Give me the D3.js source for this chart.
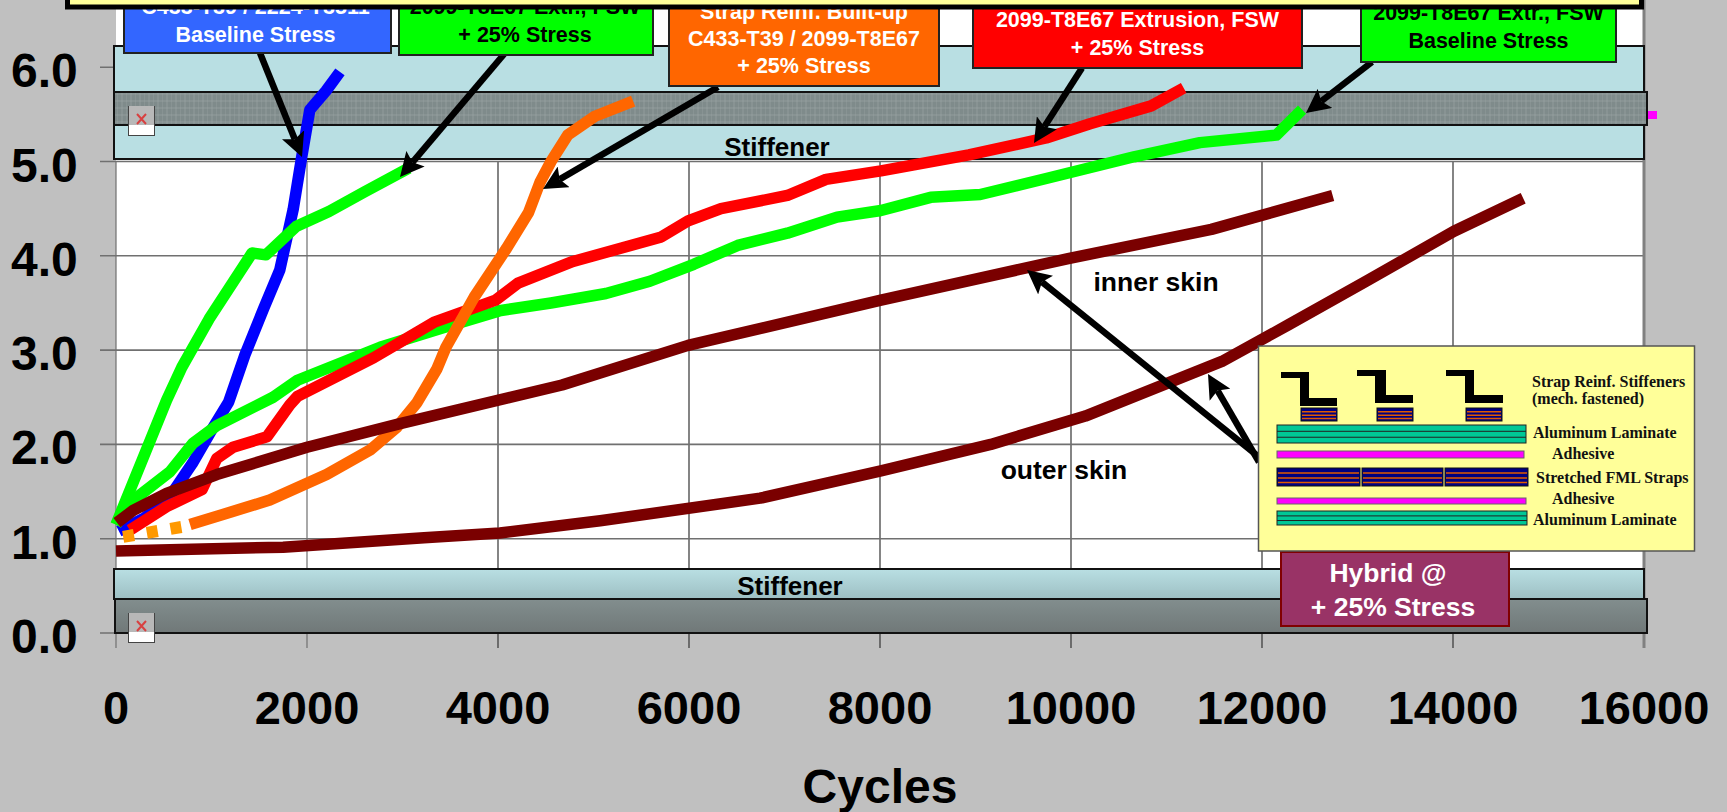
<!DOCTYPE html>
<html><head><meta charset="utf-8">
<script src="https://cdn.jsdelivr.net/npm/d3@7"></script>
<style>html,body{margin:0;padding:0;background:#c0c0c0;overflow:hidden}svg{display:block}text{font-family:"Liberation Sans",Arial,sans-serif}</style>
</head><body><svg id="c" width="1727" height="812"></svg>
<script>
const xTicks=[0,2000,4000,6000,8000,10000,12000,14000,16000];
const yTicks=[0,1,2,3,4,5,6];
const blueBase=[[30,1.08],[300,1.22],[600,1.5],[800,1.8],[1000,2.15],[1180,2.45],[1350,2.95],[1550,3.45],[1715,3.85],[1855,4.49],[1945,5.05],[2030,5.55],[2200,5.75],[2345,5.95]];
const greenShort=[[0,1.15],[530,2.47],[690,2.82],[975,3.33],[1425,4.03],[1570,4.01],[1885,4.31],[2230,4.47],[2605,4.68],[3065,4.93]];
const greenLong=[[0,1.15],[145,1.38],[565,1.71],[805,2.01],[1055,2.2],[1645,2.5],[1900,2.68],[2765,3.03],[3400,3.23],[4030,3.42],[4555,3.5],[5130,3.6],[5590,3.73],[6050,3.91],[6510,4.11],[7030,4.24],[7550,4.41],[8010,4.48],[8530,4.62],[9050,4.65],[9740,4.82],[10660,5.05],[11350,5.2],[12150,5.28],[12420,5.55]];
const redLong=[[145,1.09],[530,1.34],[900,1.52],[1055,1.85],[1225,1.97],[1580,2.08],[1820,2.42],[1900,2.51],[2700,2.92],[3340,3.3],[3975,3.53],[4210,3.71],[4785,3.94],[5710,4.2],[5990,4.37],[6335,4.5],[7030,4.64],[7435,4.81],[8010,4.9],[8930,5.07],[9740,5.25],[10200,5.4],[10840,5.59],[11180,5.78]];
const orangeDotted=[[75,1.02],[775,1.14]];
const orangeSolid=[[775,1.15],[1195,1.28],[1610,1.41],[2205,1.68],[2660,1.94],[2940,2.18],[3150,2.44],[3360,2.8],[3455,3.03],[3750,3.56],[4090,4.08],[4320,4.46],[4440,4.78],[4555,5.0],[4730,5.28],[5015,5.48],[5415,5.64]];
const innerSkin=[[10,1.17],[180,1.3],[530,1.48],[1055,1.68],[2000,1.97],[2975,2.22],[4670,2.63],[5990,3.05],[8010,3.53],[9970,3.97],[11470,4.28],[12740,4.64]];
const outerSkin=[[0,0.87],[1750,0.91],[3225,1.01],[4020,1.06],[5070,1.19],[6745,1.43],[8010,1.72],[9160,2.0],[10150,2.3],[11580,2.88],[12280,3.27],[13090,3.73],[14010,4.26],[14735,4.61]];

const x=d3.scaleLinear().domain([0,16000]).range([116,1644]);
const y=d3.scaleLinear().domain([0,6]).range([633,67.2]);
const svg=d3.select("#c");
const defs=svg.append("defs");
const lg=defs.append("linearGradient").attr("id","lb").attr("x2",0).attr("y2",1);
lg.append("stop").attr("offset",0).attr("stop-color","#b9dfe3");
lg.append("stop").attr("offset",1).attr("stop-color","#9dbfc3");
const gg=defs.append("linearGradient").attr("id","gb").attr("x2",0).attr("y2",1);
gg.append("stop").attr("offset",0).attr("stop-color","#828e8e");
gg.append("stop").attr("offset",1).attr("stop-color","#707878");
const pt=defs.append("pattern").attr("id","tx").attr("width",9).attr("height",7).attr("patternUnits","userSpaceOnUse");
pt.append("rect").attr("width",9).attr("height",7).attr("fill","#7f8b8b");
pt.append("path").attr("d","M0 0V7M5 0V7M0 3H9").attr("stroke","#96a2a2").attr("stroke-width",.7);
const ar=defs.append("marker").attr("id","ah").attr("viewBox","0 0 10 10").attr("refX",2).attr("refY",5).attr("markerUnits","userSpaceOnUse").attr("markerWidth",24).attr("markerHeight",24).attr("orient","auto");
ar.append("path").attr("d","M0 0L10 5L0 10L2 5Z").attr("fill","#000");

// plot background
svg.append("rect").attr("x",x(0)).attr("y",0).attr("width",x(16000)-x(0)).attr("height",y(0)).attr("fill","#fff");
const grid=svg.append("g");
grid.selectAll(".v").data(xTicks).join("line").attr("x1",d=>x(d)).attr("x2",d=>x(d)).attr("y1",y(5)).attr("y2",648).attr("stroke",d=>d==0||d==2000?"#6f6f6f":"#333").attr("stroke-width",d=>d==16000?0:1.2);
grid.selectAll(".h").data(yTicks).join("line").attr("x1",100).attr("x2",x(16000)).attr("y1",d=>y(d)).attr("y2",d=>y(d)).attr("stroke","#707070").attr("stroke-width",1.6);
grid.append("line").attr("x1",x(16000)).attr("x2",x(16000)).attr("y1",0).attr("y2",648).attr("stroke","#808080").attr("stroke-width",3);

// stiffener bands
function band(yTop,yBot,fill){
  svg.append("rect").attr("x",114).attr("y",yTop).attr("width",1530).attr("height",yBot-yTop).attr("fill",fill).attr("stroke","#111").attr("stroke-width",2);
}
band(46,159,"#b9dfe3");
svg.append("rect").attr("x",114).attr("y",92).attr("width",1533).attr("height",33).attr("fill","url(#tx)").attr("stroke","#111").attr("stroke-width",2);
band(569,599,"url(#lb)");
svg.append("rect").attr("x",115).attr("y",599).attr("width",1532).attr("height",34).attr("fill","url(#gb)").attr("stroke","#111").attr("stroke-width",2);
svg.append("rect").attr("x",1648).attr("y",111).attr("width",9).attr("height",8).attr("fill","#ff00ff");

function icon(px,py){
  const g=svg.append("g").attr("transform",`translate(${px},${py})`);
  g.append("rect").attr("x",.5).attr("y",.5).attr("width",26).attr("height",29).attr("fill","#fff").attr("stroke","#444");
  g.append("rect").attr("x",1).attr("y",0).attr("width",25).attr("height",19).attr("fill","#b8b8b8");
  g.append("path").attr("d","M9 8L18 18M18 8L9 18").attr("stroke","#d84040").attr("stroke-width",2);
}
icon(128,106); icon(128,613);

svg.append("text").attr("x",777).attr("y",156).attr("text-anchor","middle").attr("font-size",26).attr("font-weight","bold").text("Stiffener");
svg.append("text").attr("x",790).attr("y",595).attr("text-anchor","middle").attr("font-size",26).attr("font-weight","bold").text("Stiffener");

// series
const line=d3.line().x(d=>x(d[0])).y(d=>y(d[1]));
const series=[[blueBase,"#0000ff"],[greenShort,"#00ff00"],[greenLong,"#00ff00"],[redLong,"#ff0000"],[orangeSolid,"#ff6600"],[innerSkin,"#7a0000"],[outerSkin,"#7a0000"]];
svg.append("g").selectAll("path").data(series).join("path").attr("d",d=>line(d[0])).attr("fill","none").attr("stroke",d=>d[1]).attr("stroke-width",11.5).attr("stroke-linejoin","round");
svg.append("path").attr("d",line(orangeDotted)).attr("fill","none").attr("stroke","#ff9900").attr("stroke-width",12).attr("stroke-dasharray","11 13");

// axes labels
svg.append("g").selectAll("text").data(yTicks).join("text").attr("x",11).attr("y",d=>y(d)+20).attr("font-size",48).attr("font-weight","bold").text(d=>d.toFixed(1));
svg.append("g").selectAll("text").data(xTicks).join("text").attr("x",d=>x(d)).attr("y",724).attr("text-anchor","middle").attr("font-size",47).attr("font-weight","bold").text(d=>d);
svg.append("text").attr("x",880).attr("y",803).attr("text-anchor","middle").attr("font-size",48).attr("font-weight","bold").text("Cycles");
svg.append("text").attr("x",1156).attr("y",291).attr("text-anchor","middle").attr("font-size",26.5).attr("font-weight","bold").text("inner skin");
svg.append("text").attr("x",1064).attr("y",479).attr("text-anchor","middle").attr("font-size",26.5).attr("font-weight","bold").text("outer skin");

// arrows: line stops short of the tip, marker head reaches it
const arrows=[[260,53,302,157],[505,53,400,177],[718,87,543,189],[1082,68,1034,143],[1372,62,1306,113],[1259,457,1027,270],[1259,462,1208,374]];
const headLen=19.2;
svg.append("g").selectAll("line").data(arrows).join("line")
  .attr("x1",d=>d[0]).attr("y1",d=>d[1])
  .attr("x2",d=>d[2]-(d[2]-d[0])/Math.hypot(d[2]-d[0],d[3]-d[1])*headLen)
  .attr("y2",d=>d[3]-(d[3]-d[1])/Math.hypot(d[2]-d[0],d[3]-d[1])*headLen)
  .attr("stroke","#000").attr("stroke-width",6.5).attr("marker-end","url(#ah)");

// label boxes
const boxes=[
 {x:124,w:267,b:53,f:"#3366ff",c:"#fff",lines:["C433-T39 / 2224-T3511","Baseline Stress"],ys:[14,42],dx:-2},
 {x:399,w:254,b:55,f:"#00ff00",c:"#000",lines:["2099-T8E67 Extr., FSW","+ 25% Stress"],ys:[14,42],dx:-1},
 {x:669,w:270,b:86,f:"#ff6600",c:"#fff",lines:["Strap Reinf. Built-up","C433-T39 / 2099-T8E67","+ 25% Stress"],ys:[18.5,45.5,73],dx:0},
 {x:973,w:329,b:68,f:"#ff0000",c:"#fff",lines:["2099-T8E67 Extrusion, FSW","+ 25% Stress"],ys:[27,55],dx:0},
 {x:1361,w:255,b:62,f:"#00ff00",c:"#000",lines:["2099-T8E67 Extr., FSW","Baseline Stress"],ys:[20,48],dx:0}
];
boxes.forEach(b=>{
  svg.append("rect").attr("x",b.x).attr("y",-5).attr("width",b.w).attr("height",b.b+5).attr("fill",b.f).attr("stroke","#222").attr("stroke-width",2);
  b.lines.forEach((t,i)=>svg.append("text").attr("x",b.x+b.w/2+b.dx).attr("y",b.ys[i]).attr("text-anchor","middle").attr("font-size",21.5).attr("font-weight","bold").attr("fill",b.c).text(t));
});
svg.append("rect").attr("x",67.5).attr("y",-6).attr("width",1574).attr("height",13).attr("fill","#ffff99").attr("stroke","#000").attr("stroke-width",5);

// hybrid
svg.append("rect").attr("x",1281).attr("y",552).attr("width",228).attr("height",74).attr("fill","#993366").attr("stroke","#800000").attr("stroke-width",2);
svg.append("text").attr("x",1388).attr("y",582).attr("text-anchor","middle").attr("font-size",26.5).attr("font-weight","bold").attr("fill","#fff").text("Hybrid @");
svg.append("text").attr("x",1393).attr("y",616).attr("text-anchor","middle").attr("font-size",26.5).attr("font-weight","bold").attr("fill","#fff").text("+ 25% Stress");

// inset legend
const leg=svg.append("g");
leg.append("rect").attr("x",1258.5).attr("y",346).attr("width",436).attr("height",205).attr("fill","#ffff99").attr("stroke","#555").attr("stroke-width",1.5);
const zs=[[1281,372,1300,1309,1337,398,406],[1357,370,1375,1386,1413,395,403],[1446,370,1465,1474,1503,395,403]];
zs.forEach(([a,t,s1,s2,e,b1,b2])=>{
  leg.append("path").attr("d",`M${a} ${t}H${s2}V${b1}H${e}V${b2}H${s1}V${t+6}H${a}Z`).attr("fill","#000");
});
function strap(px,py,w,h){
  leg.append("rect").attr("x",px).attr("y",py).attr("width",w).attr("height",h).attr("fill","#000080").attr("stroke","#111");
  [.28,.55,.8].forEach(f=>leg.append("line").attr("x1",px+1).attr("x2",px+w-1).attr("y1",py+h*f).attr("y2",py+h*f).attr("stroke","#e05a00").attr("stroke-width",1.5));
}
strap(1301,408,36,13);strap(1377,408,36,13);strap(1466,408,36,13);
function alum(px,py,w,h){
  leg.append("rect").attr("x",px).attr("y",py).attr("width",w).attr("height",h).attr("fill","#00c896").attr("stroke","#222");
  [.35,.68].forEach(f=>leg.append("line").attr("x1",px).attr("x2",px+w).attr("y1",py+h*f).attr("y2",py+h*f).attr("stroke","#222"));
}
alum(1277,425,249,18);alum(1277,511,250,14);
leg.append("rect").attr("x",1277).attr("y",451).attr("width",247).attr("height",7).attr("fill","#ff00ff").attr("stroke","#666");
leg.append("rect").attr("x",1277).attr("y",498).attr("width",249).attr("height",6).attr("fill","#ff00ff").attr("stroke","#666");
strap(1277,468,83,18);strap(1362,468,81,18);strap(1445,468,83,18);
const legTexts=[["Strap Reinf. Stiffeners",1532,387],["(mech. fastened)",1532,404],["Aluminum Laminate",1533,438],["Adhesive",1552,459],["Stretched FML Straps",1536,483],["Adhesive",1552,504],["Aluminum Laminate",1533,525]];
leg.selectAll("text").data(legTexts).join("text").attr("x",d=>d[1]).attr("y",d=>d[2]).attr("font-size",16).attr("font-weight","bold").style("font-family","'Liberation Serif',serif").attr("fill","#111").text(d=>d[0]);
</script></body></html>
